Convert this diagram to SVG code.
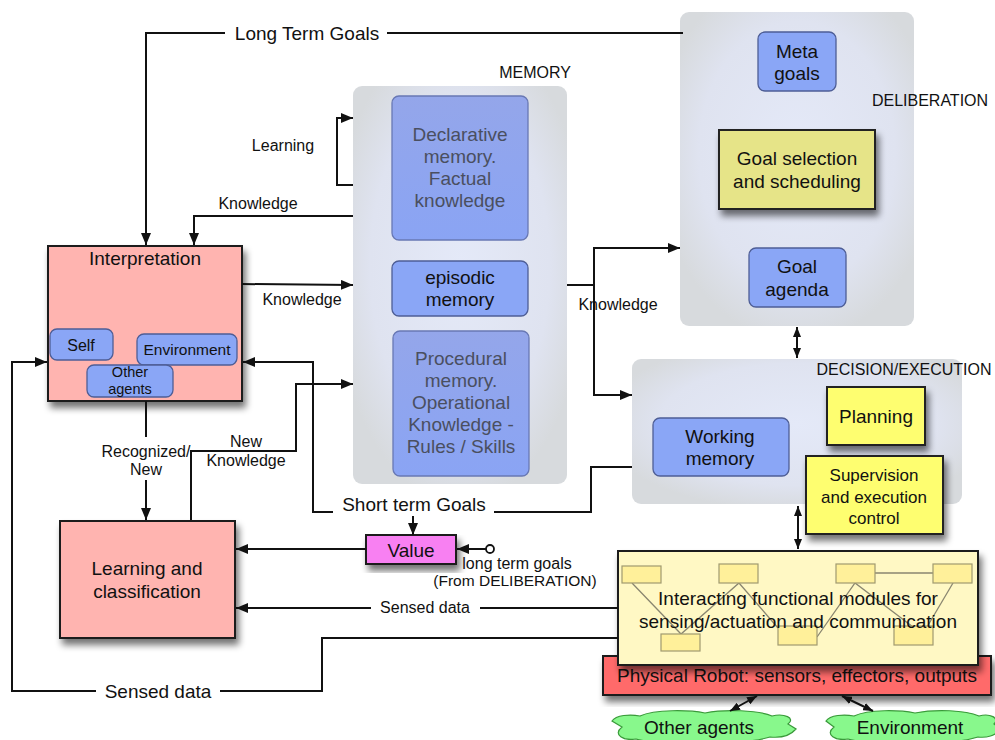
<svg xmlns="http://www.w3.org/2000/svg" width="995" height="740" viewBox="0 0 995 740">
<defs>
<style>
text{font-family:"Liberation Sans",Arial,sans-serif;fill:#111;text-anchor:middle}
.lbl{font-size:16px}
.big{font-size:19px}
.nt{font-size:19px}
.fade{fill:#4a4f60}
.conn{fill:none;stroke:#111;stroke-width:2}
.arr{marker-end:url(#a)}
.dbl{marker-start:url(#s);marker-end:url(#s)}
.grp{fill:url(#gg)}
.blue{fill:#8aa6f6;stroke:#4e5e96;stroke-width:1.3}
.mem{fill:url(#mg);stroke:#6878b4;stroke-width:1.3}
.pink{fill:#ffb4b0;stroke:#1a1a1a;stroke-width:2;filter:url(#sh)}
.yel{fill:#fefe70;stroke:#222;stroke-width:2;filter:url(#sh)}
.mod{fill:#fff09a;stroke:#a09a70;stroke-width:1.2}
.cloud{fill:#88f88c;stroke:#3a9a3a;stroke-width:1.2}
</style>
<marker id="a" viewBox="0 0 12 10" refX="12" refY="5" markerWidth="12" markerHeight="10" markerUnits="userSpaceOnUse" orient="auto"><path d="M0,0 L12,5 L0,10z" fill="#111"/></marker>
<marker id="s" viewBox="0 0 10 8" refX="10" refY="4" markerWidth="10" markerHeight="8" markerUnits="userSpaceOnUse" orient="auto-start-reverse"><path d="M0,0 L10,4 L0,8z" fill="#111"/></marker>
<radialGradient id="gg" cx="0.5" cy="0.45" r="0.6"><stop offset="0" stop-color="#e4e9f8"/><stop offset="0.7" stop-color="#dfe3f0"/><stop offset="1" stop-color="#d7dadd"/></radialGradient>
<linearGradient id="mg" x1="0" y1="0" x2="0" y2="1"><stop offset="0" stop-color="#94a6ea"/><stop offset="1" stop-color="#8aa4f4"/></linearGradient>
<filter id="sh" x="-20%" y="-20%" width="150%" height="150%"><feGaussianBlur in="SourceAlpha" stdDeviation="3.5"/><feOffset dx="3" dy="6" result="b"/><feComponentTransfer><feFuncA type="linear" slope="0.55"/></feComponentTransfer><feMerge><feMergeNode/><feMergeNode in="SourceGraphic"/></feMerge></filter>
</defs>
<rect width="995" height="740" fill="#fff"/>

<g id="deliberation">
<rect class="grp" x="680" y="12" width="234" height="314" rx="9"/>
<text class="lbl" x="930" y="106">DELIBERATION</text>
</g>
<g id="meta-goals">
<rect class="blue" x="758" y="32" width="78" height="59" rx="7"/>
<text class="nt" x="797" y="58">Meta</text>
<text class="nt" x="797" y="80">goals</text>
</g>
<g id="goal-selection">
<rect class="yel" x="719" y="130" width="156" height="79" style="fill:#e6e488"/>
<text class="nt" x="797" y="165">Goal selection</text>
<text class="nt" x="797" y="188">and scheduling</text>
</g>
<g id="goal-agenda">
<rect class="blue" x="749" y="248" width="97" height="59" rx="7"/>
<text class="nt" x="797" y="273">Goal</text>
<text class="nt" x="797" y="296">agenda</text>
</g>

<g id="memory">
<rect class="grp" x="353" y="86" width="214" height="398" rx="9"/>
<text class="lbl" x="535" y="78">MEMORY</text>
</g>
<g id="declarative">
<rect class="mem" x="392" y="96" width="136" height="144" rx="7"/>
<text class="nt fade" x="460" y="141">Declarative</text>
<text class="nt fade" x="460" y="163">memory.</text>
<text class="nt fade" x="460" y="185">Factual</text>
<text class="nt fade" x="460" y="207">knowledge</text>
</g>
<g id="episodic">
<rect class="blue" x="392" y="261" width="136" height="55" rx="7"/>
<text class="nt" x="460" y="284">episodic</text>
<text class="nt" x="460" y="306">memory</text>
</g>
<g id="procedural">
<rect class="mem" x="393" y="331" width="136" height="145" rx="7"/>
<text class="nt fade" x="461" y="365">Procedural</text>
<text class="nt fade" x="461" y="387">memory.</text>
<text class="nt fade" x="461" y="409">Operational</text>
<text class="nt fade" x="461" y="431">Knowledge -</text>
<text class="nt fade" x="461" y="453">Rules / Skills</text>
</g>

<g id="interpretation">
<rect class="pink" x="48" y="246" width="194" height="155"/>
<text class="nt" x="145" y="265">Interpretation</text>
<rect class="blue" x="50" y="329" width="63" height="31" rx="7"/>
<text style="font-size:16px" x="81" y="351">Self</text>
<rect class="blue" x="137" y="334" width="100" height="31" rx="7"/>
<text style="font-size:15.5px" x="187" y="355">Environment</text>
<rect class="blue" x="87" y="365" width="86" height="32" rx="7"/>
<text style="font-size:14.5px" x="130" y="377">Other</text>
<text style="font-size:14.5px" x="130" y="394">agents</text>
</g>

<g id="learning">
<rect class="pink" x="60" y="521" width="175" height="117"/>
<text class="nt" x="147" y="575">Learning and</text>
<text class="nt" x="147" y="598">classification</text>
</g>

<g id="value">
<rect class="pink" x="366" y="535" width="90" height="29" style="fill:#f880f2"/>
<text class="nt" x="411" y="557">Value</text>
</g>

<g id="decision">
<rect class="grp" x="632" y="359" width="330" height="145" rx="9"/>
<text class="lbl" x="904" y="375">DECISION/EXECUTION</text>
</g>
<g id="working-memory">
<rect class="blue" x="653" y="418" width="136" height="58" rx="7"/>
<text class="nt" x="720" y="443">Working</text>
<text class="nt" x="720" y="465">memory</text>
</g>
<g id="planning">
<rect class="yel" x="827" y="387" width="98" height="58"/>
<text class="nt" x="876" y="423">Planning</text>
</g>
<g id="supervision">
<rect class="yel" x="806" y="456" width="137" height="78"/>
<text style="font-size:17px" x="874" y="481">Supervision</text>
<text style="font-size:17px" x="874" y="503">and execution</text>
<text style="font-size:17px" x="874" y="524">control</text>
</g>

<g id="physical-robot">
<rect class="pink" x="603" y="656" width="388" height="39" style="fill:#ff6b6b"/>
<text class="nt" x="797" y="682">Physical Robot: sensors, effectors, outputs</text>
</g>
<g id="functional-modules">
<rect class="pink" x="618" y="551" width="360" height="114" style="fill:#fff8c4"/>
<g fill="none" stroke="#8a8670" stroke-width="1.3">
<path d="M632,583 L681,634 L739,583 L778,628"/>
<path d="M817,637 L855,583 L913,627"/>
<path d="M875,573 H933"/>
<path d="M953,583 L927,627"/>
</g>
<rect class="mod" x="622" y="566" width="39" height="17"/>
<rect class="mod" x="719" y="564" width="39" height="19"/>
<rect class="mod" x="836" y="564" width="39" height="19"/>
<rect class="mod" x="933" y="564" width="39" height="19"/>
<rect class="mod" x="661" y="634" width="39" height="17"/>
<rect class="mod" x="778" y="626" width="39" height="19"/>
<rect class="mod" x="894" y="626" width="39" height="19"/>
<text class="nt" x="798" y="605">Interacting functional modules for</text>
<text class="nt" x="798" y="628">sensing/actuation and communication</text>
</g>

<g id="other-agents">
<path class="cloud" d="M622,727 L612,721 C616,715 630,714 640,716 C655,709 690,710 705,713 C725,709 758,710 772,716 C784,713 796,718 788,724 L796,729 C790,736 780,738 770,737 C750,743 720,743 700,741 C680,744 650,743 636,739 C624,741 612,735 622,727 Z"/>
<text class="nt" x="699" y="734">Other agents</text>
</g>
<g id="environment">
<path class="cloud" d="M834,727 L826,721 C830,715 844,714 854,716 C869,709 900,710 915,713 C935,709 965,710 979,716 C990,713 1000,718 994,724 L1000,729 C996,736 986,738 978,737 C958,743 930,743 910,741 C890,744 862,743 848,739 C836,741 824,735 834,727 Z"/>
<text class="nt" x="910" y="734">Environment</text>
</g>

<g id="connectors">
<path class="conn" d="M683,33 H387"/>
<path class="conn arr" d="M225,33 H146 V245"/>
<text class="big" x="307" y="40">Long Term Goals</text>
<path class="conn arr" d="M353,185 H337 V118 H353"/>
<text class="lbl" x="283" y="151">Learning</text>
<path class="conn arr" d="M353,216 H194 V245"/>
<text class="lbl" x="258" y="209">Knowledge</text>
<path class="conn arr" d="M242,284 L353,285"/>
<text class="lbl" x="302" y="305">Knowledge</text>
<path class="conn" d="M567,285 H594"/>
<path class="conn arr" d="M594,285 V248 H680"/>
<path class="conn arr" d="M594,285 V395 H632"/>
<text class="lbl" x="618" y="310">Knowledge</text>
<path class="conn" d="M632,467 H591 V512 H494"/>
<path class="conn arr" d="M333,512 H313 V362 H243"/>
<text class="big" x="414" y="511">Short term Goals</text>
<path class="conn arr" d="M413,516 V535"/>
<path class="conn arr" d="M191,520 V451 H296 V384 H353"/>
<text class="lbl" x="246" y="447">New</text>
<text class="lbl" x="246" y="466">Knowledge</text>
<path class="conn" d="M146,401 V437"/>
<path class="conn arr" d="M146,480 V520"/>
<text class="lbl" x="146" y="457">Recognized/</text>
<text class="lbl" x="146" y="475">New</text>
<path class="conn arr" d="M366,549 H236"/>
<path class="conn arr" d="M486,549 H457"/>
<circle cx="490" cy="549" r="4" fill="#fff" stroke="#111" stroke-width="1.8"/>
<text class="lbl" x="517" y="569">long term goals</text>
<text style="font-size:15.5px" x="515" y="586">(From DELIBERATION)</text>
<path class="conn" d="M618,608 H480"/>
<path class="conn arr" d="M371,608 H236"/>
<text class="lbl" x="425" y="613">Sensed data</text>
<path class="conn" d="M618,638 H322 V691 H220"/>
<path class="conn arr" d="M96,691 H12 V362 H47"/>
<text class="big" x="158" y="698">Sensed data</text>
<path class="conn dbl" d="M797,327 V358"/>
<path class="conn dbl" d="M798,506 V549"/>
<path class="conn dbl" d="M757,696 L730,711"/>
<path class="conn dbl" d="M842,696 L873,711"/>
</g>
</svg>
